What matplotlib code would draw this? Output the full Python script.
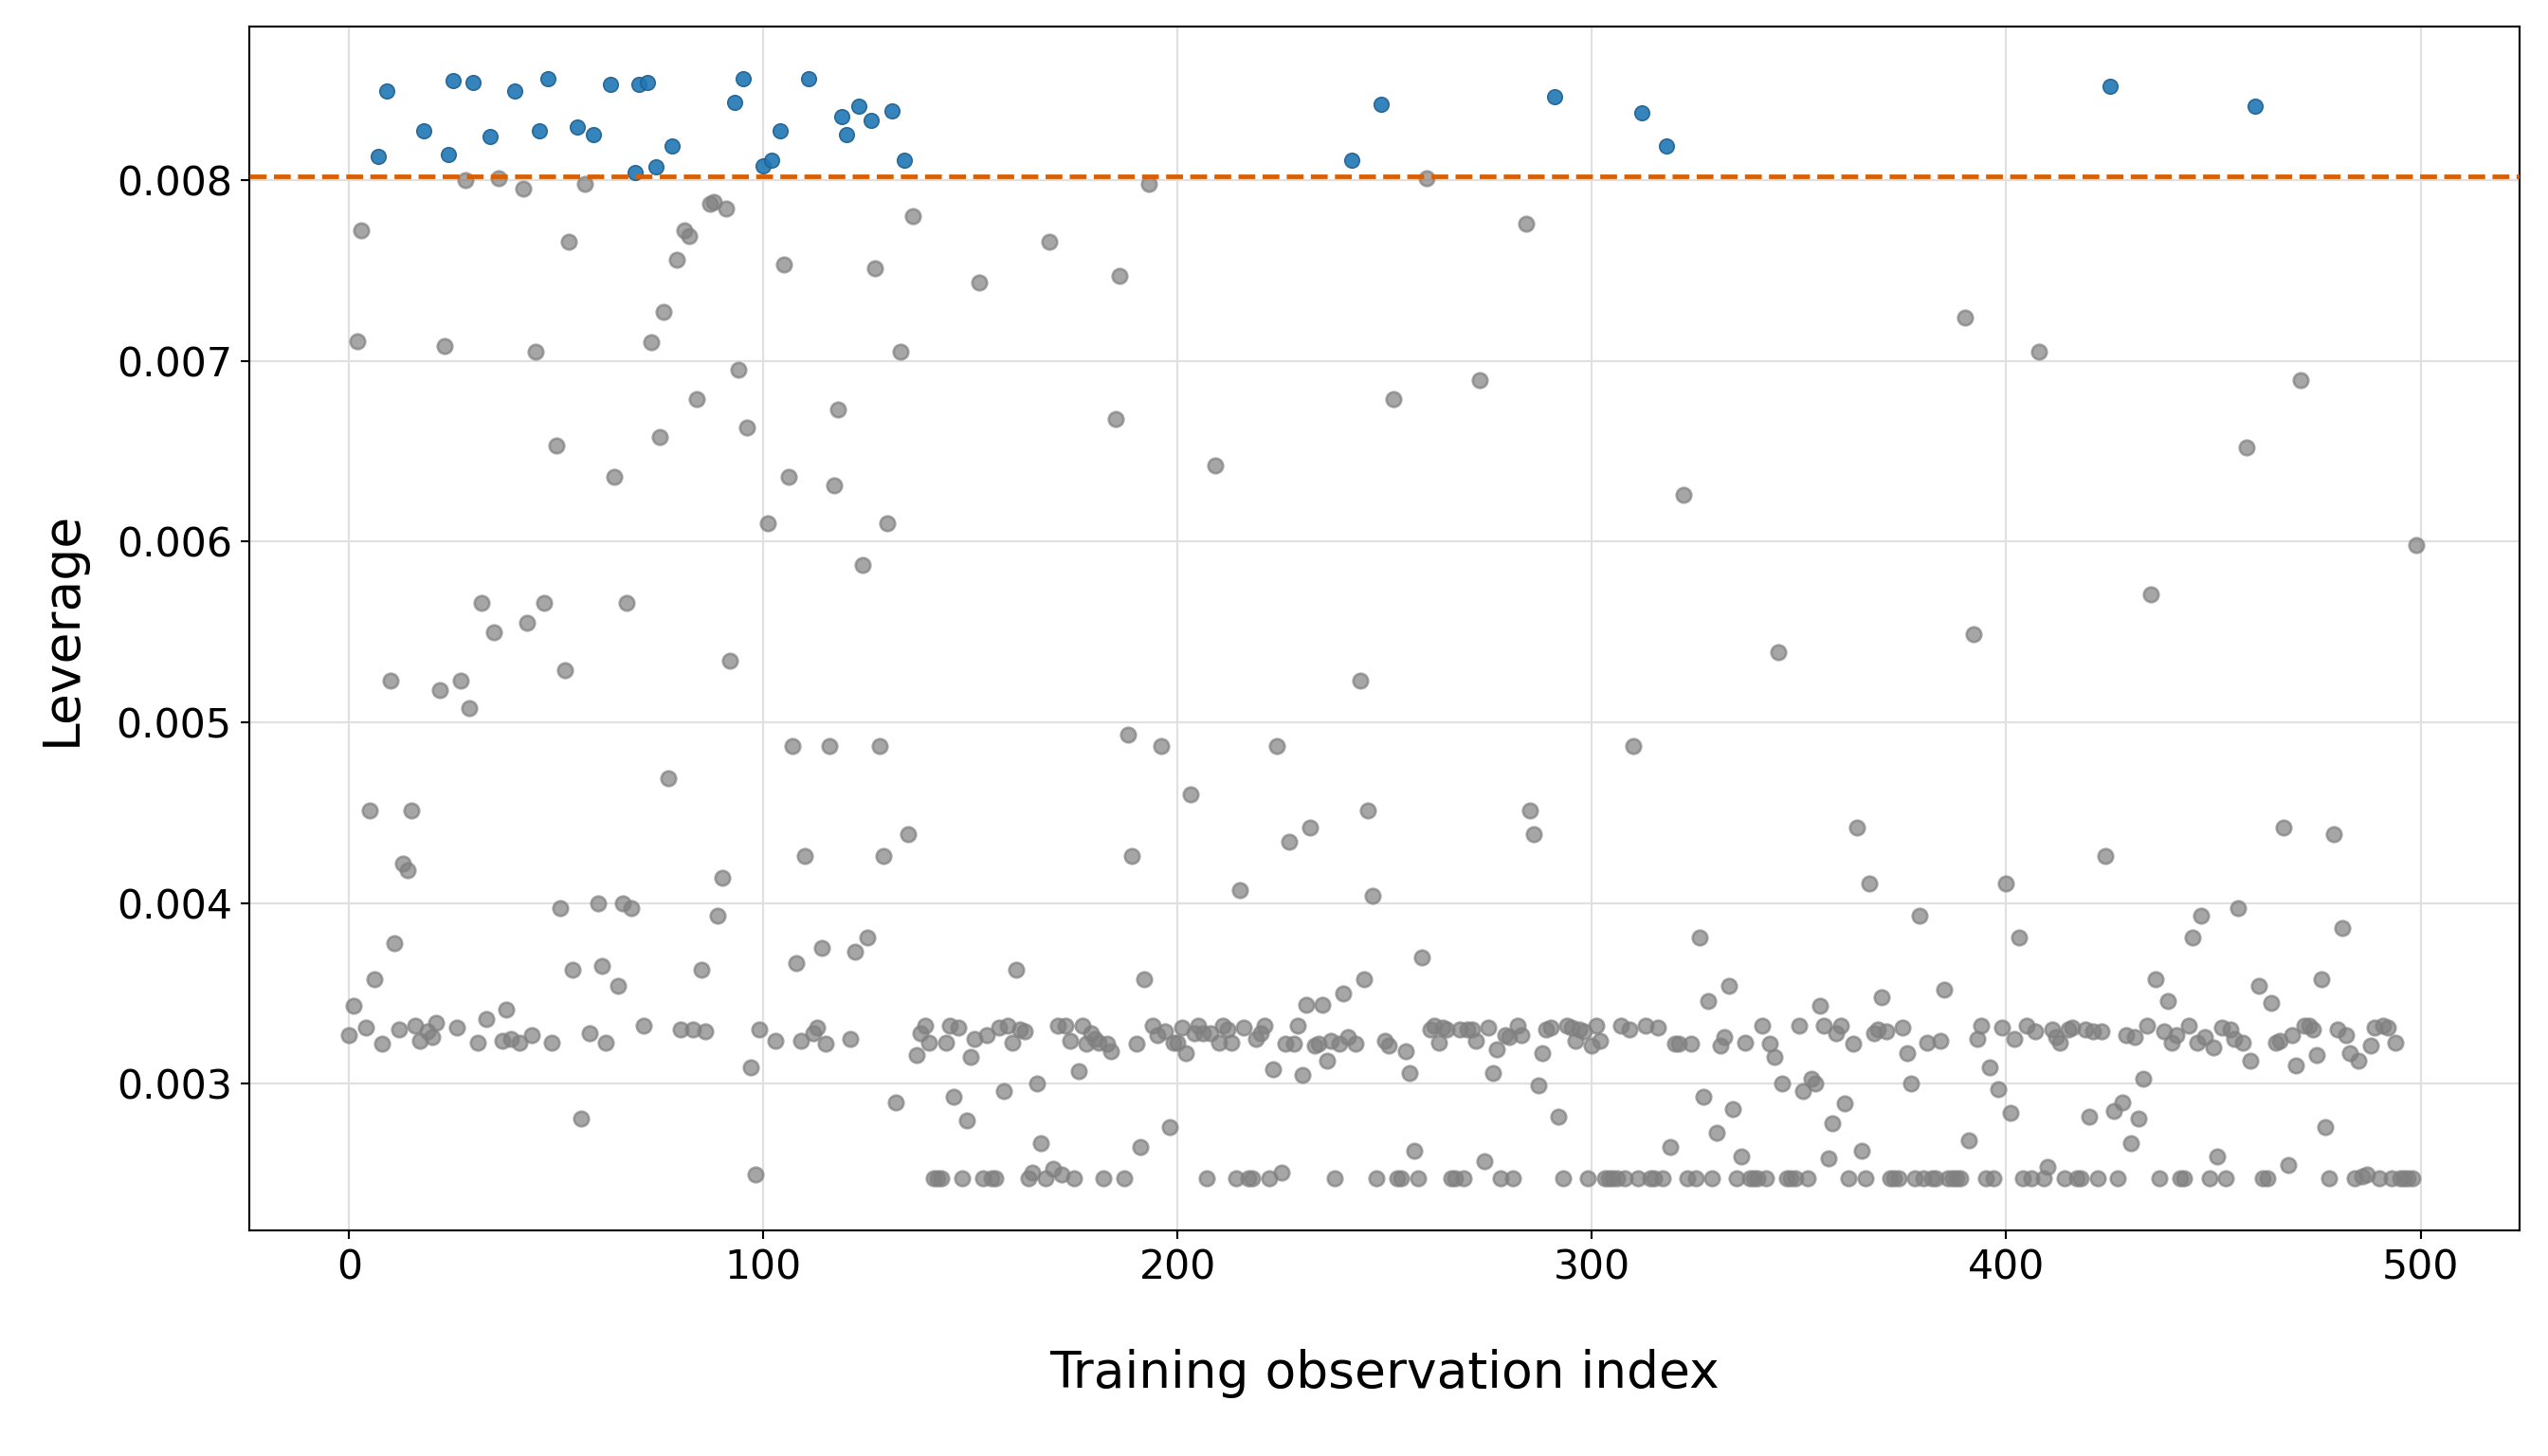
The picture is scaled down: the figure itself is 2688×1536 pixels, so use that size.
import numpy as np
import matplotlib
matplotlib.use("Agg")
import matplotlib.pyplot as plt

leverage = [
0.00327,0.00343,0.00711,0.00772,0.00331,0.00451,0.00358,0.00813,0.00322,0.00849,
0.00523,0.00378,0.00330,0.00422,0.00418,0.00451,0.00332,0.00324,0.00827,0.00329,
0.00326,0.00334,0.00518,0.00708,0.00814,0.00855,0.00331,0.00523,0.00800,0.00508,
0.00854,0.00323,0.00566,0.00336,0.00824,0.00550,0.00801,0.00324,0.00341,0.00325,
0.00849,0.00323,0.00795,0.00555,0.00327,0.00705,0.00827,0.00566,0.00856,0.00323,
0.00653,0.00397,0.00529,0.00766,0.00363,0.00829,0.00281,0.00798,0.00328,0.00825,
0.00400,0.00365,0.00323,0.00853,0.00636,0.00354,0.00400,0.00566,0.00397,0.00804,
0.00853,0.00332,0.00854,0.00710,0.00807,0.00658,0.00727,0.00469,0.00819,0.00756,
0.00330,0.00772,0.00769,0.00330,0.00679,0.00363,0.00329,0.00787,0.00788,0.00393,
0.00414,0.00784,0.00534,0.00843,0.00695,0.00856,0.00663,0.00309,0.00250,0.00330,
0.00808,0.00610,0.00811,0.00324,0.00827,0.00753,0.00636,0.00487,0.00367,0.00324,
0.00426,0.00856,0.00328,0.00331,0.00375,0.00322,0.00487,0.00631,0.00673,0.00835,
0.00825,0.00325,0.00373,0.00841,0.00587,0.00381,0.00833,0.00751,0.00487,0.00426,
0.00610,0.00838,0.00290,0.00705,0.00811,0.00438,0.00780,0.00316,0.00328,0.00332,
0.00323,0.00248,0.00248,0.00248,0.00323,0.00332,0.00293,0.00331,0.00248,0.00280,
0.00315,0.00325,0.00743,0.00248,0.00327,0.00248,0.00248,0.00331,0.00296,0.00332,
0.00323,0.00363,0.00330,0.00329,0.00248,0.00251,0.00300,0.00267,0.00248,0.00766,
0.00253,0.00332,0.00250,0.00332,0.00324,0.00248,0.00307,0.00332,0.00322,0.00328,
0.00325,0.00323,0.00248,0.00322,0.00318,0.00668,0.00747,0.00248,0.00493,0.00426,
0.00322,0.00265,0.00358,0.00798,0.00332,0.00327,0.00487,0.00329,0.00276,0.00323,
0.00323,0.00331,0.00317,0.00460,0.00328,0.00332,0.00328,0.00248,0.00328,0.00642,
0.00323,0.00332,0.00330,0.00323,0.00248,0.00407,0.00331,0.00248,0.00248,0.00325,
0.00328,0.00332,0.00248,0.00308,0.00487,0.00251,0.00322,0.00434,0.00322,0.00332,
0.00305,0.00344,0.00442,0.00321,0.00322,0.00344,0.00313,0.00324,0.00248,0.00322,
0.00350,0.00326,0.00811,0.00322,0.00523,0.00358,0.00451,0.00404,0.00248,0.00842,
0.00324,0.00321,0.00679,0.00248,0.00248,0.00318,0.00306,0.00263,0.00248,0.00370,
0.00801,0.00330,0.00332,0.00323,0.00331,0.00330,0.00248,0.00248,0.00330,0.00248,
0.00330,0.00330,0.00324,0.00689,0.00257,0.00331,0.00306,0.00319,0.00248,0.00327,
0.00326,0.00248,0.00332,0.00327,0.00776,0.00451,0.00438,0.00299,0.00317,0.00330,
0.00331,0.00846,0.00282,0.00248,0.00332,0.00331,0.00324,0.00330,0.00329,0.00248,
0.00321,0.00332,0.00324,0.00248,0.00248,0.00248,0.00248,0.00332,0.00248,0.00330,
0.00487,0.00248,0.00837,0.00332,0.00248,0.00248,0.00331,0.00248,0.00819,0.00265,
0.00322,0.00322,0.00626,0.00248,0.00322,0.00248,0.00381,0.00293,0.00346,0.00248,
0.00273,0.00321,0.00326,0.00354,0.00286,0.00248,0.00260,0.00323,0.00248,0.00248,
0.00248,0.00332,0.00248,0.00322,0.00315,0.00539,0.00300,0.00248,0.00248,0.00248,
0.00332,0.00296,0.00248,0.00303,0.00300,0.00343,0.00332,0.00259,0.00278,0.00328,
0.00332,0.00289,0.00248,0.00322,0.00442,0.00263,0.00248,0.00411,0.00328,0.00330,
0.00348,0.00329,0.00248,0.00248,0.00248,0.00331,0.00317,0.00300,0.00248,0.00393,
0.00248,0.00323,0.00248,0.00248,0.00324,0.00352,0.00248,0.00248,0.00248,0.00248,
0.00724,0.00269,0.00549,0.00325,0.00332,0.00248,0.00309,0.00248,0.00297,0.00331,
0.00411,0.00284,0.00325,0.00381,0.00248,0.00332,0.00248,0.00329,0.00705,0.00248,
0.00254,0.00330,0.00326,0.00323,0.00248,0.00330,0.00331,0.00248,0.00248,0.00330,
0.00282,0.00329,0.00248,0.00329,0.00426,0.00852,0.00285,0.00248,0.00290,0.00327,
0.00267,0.00326,0.00281,0.00303,0.00332,0.00571,0.00358,0.00248,0.00329,0.00346,
0.00323,0.00327,0.00248,0.00248,0.00332,0.00381,0.00323,0.00393,0.00326,0.00248,
0.00320,0.00260,0.00331,0.00248,0.00330,0.00325,0.00397,0.00323,0.00652,0.00313,
0.00841,0.00354,0.00248,0.00248,0.00345,0.00323,0.00324,0.00442,0.00255,0.00327,
0.00310,0.00689,0.00332,0.00332,0.00330,0.00316,0.00358,0.00276,0.00248,0.00438,
0.00330,0.00386,0.00327,0.00317,0.00248,0.00313,0.00249,0.00250,0.00321,0.00331,
0.00248,0.00332,0.00331,0.00248,0.00323,0.00248,0.00248,0.00248,0.00248,0.00598,
]
threshold = 0.00802

y = np.array(leverage)
x = np.arange(len(y))
hi = y > threshold

fig = plt.figure(figsize=(14, 8), dpi=192)
ax = fig.add_axes([0.098, 0.155, 0.891, 0.827])
ax.scatter(x[~hi], y[~hi], s=34, color="#808080", alpha=0.7, zorder=2)
ax.scatter(x[hi], y[hi], s=34, color="#1f77b4", edgecolor="#1f5f8f", linewidth=0.6, alpha=0.9, zorder=3)
ax.axhline(threshold, color="#d95f02", linestyle="--", linewidth=1.8, zorder=4)
ax.grid(True, color="#e0e0e0", linewidth=0.8, zorder=0)
ax.set_axisbelow(True)
ax.set_xlim(-24, 524)
ax.set_ylim(0.00219, 0.00885)
ax.set_xticks([0, 100, 200, 300, 400, 500])
ax.set_yticks([0.003, 0.004, 0.005, 0.006, 0.007, 0.008])
ax.yaxis.set_major_formatter(matplotlib.ticker.FormatStrFormatter("%.3f"))
ax.tick_params(labelsize=16)
ax.set_xlabel("Training observation index", fontsize=20, labelpad=24)
ax.set_ylabel("Leverage", fontsize=20, labelpad=12)
fig.savefig("out.png")
